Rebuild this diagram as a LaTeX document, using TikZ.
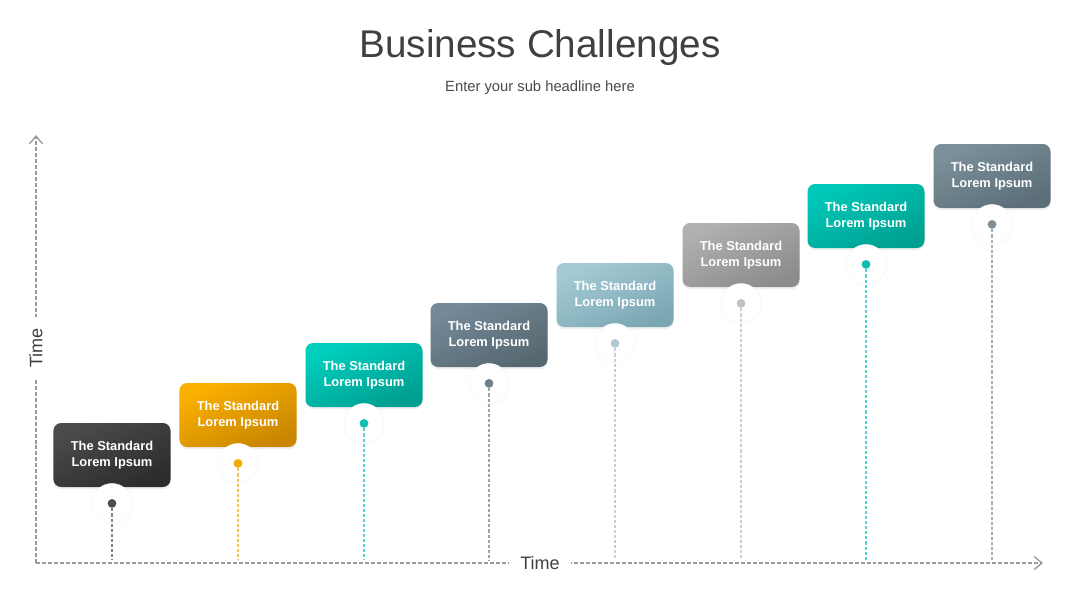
\documentclass[tikz,border=0pt]{standalone}
\usepackage{fontspec}
\setmainfont{Liberation Sans}
\usetikzlibrary{arrows.meta,positioning,shadows}
\definecolor{ink}{HTML}{404040}
\definecolor{axisgray}{HTML}{9A9A9A}
\definecolor{dkA}{HTML}{4B4B4E}\definecolor{dkB}{HTML}{2C2C2E}\definecolor{dkD}{HTML}{4E4E50}
\definecolor{orA}{HTML}{FBB000}\definecolor{orB}{HTML}{C98600}\definecolor{orD}{HTML}{F5AA00}
\definecolor{tqA}{HTML}{00CFBE}\definecolor{tqB}{HTML}{009E90}\definecolor{tqD}{HTML}{12BFB3}
\definecolor{slA}{HTML}{74899A}\definecolor{slB}{HTML}{56686F}\definecolor{slD}{HTML}{6D7E89}
\definecolor{ltA}{HTML}{A4CBD5}\definecolor{ltB}{HTML}{7BA7B2}\definecolor{ltD}{HTML}{B2C8CF}
\definecolor{gyA}{HTML}{B0B0B0}\definecolor{gyB}{HTML}{8C8C8C}\definecolor{gyD}{HTML}{C2C2C2}
\definecolor{cyA}{HTML}{00C8B8}\definecolor{cyB}{HTML}{00A091}\definecolor{cyD}{HTML}{10BDB0}
\definecolor{bgA}{HTML}{7C909B}\definecolor{bgB}{HTML}{5C6F78}\definecolor{bgD}{HTML}{7E8F9A}
\tikzset{
  card/.style 2 args={rectangle,rounded corners=6.5pt,minimum width=3.51cm,minimum height=1.92cm,
    align=center,text=white,font=\fontsize{11}{13.6}\selectfont\bfseries,
    top color=#1,bottom color=#2,shading angle=25,
    drop shadow={opacity=0.12,shadow xshift=0pt,shadow yshift=-2pt}},
  halo/.style={circle,fill=white,draw=black!3,minimum size=34pt,inner sep=0pt,
    circular drop shadow={opacity=0.04,shadow xshift=0pt,shadow yshift=0pt,shadow scale=1.1}},
  dot/.style={circle,fill=#1,minimum size=7.5pt,inner sep=0pt},
  stem/.style={draw=#1,line width=1pt,dash pattern=on 2.6pt off 1.7pt},
  axis/.style={draw=axisgray,line width=1.1pt,dash pattern=on 3.4pt off 1.7pt,
    -{Straight Barb[length=6.5pt,width=11pt,line width=1.2pt]}},
  axlabel/.style={fill=white,text=ink,font=\fontsize{15.4}{18}\selectfont,inner xsep=10pt,inner ysep=2pt}
}
\begin{document}
\begin{tikzpicture}[x=0.03cm,y=-0.03cm]
\useasboundingbox (0,0) rectangle (1080,608);
% heading
\node[text=ink,font=\fontsize{33}{38}\selectfont] (title) at (540,47) {Business Challenges};
\node[text=ink!95,font=\fontsize{12.6}{15}\selectfont] (sub) at (540,88) {Enter your sub headline here};

% axes
\coordinate (o) at (36,563);
\coordinate (ytop) at (36,135);
\coordinate (xend) at (1043,563);
\coordinate (base) at (0,560);
\draw[axis] (o) -- (ytop);
\draw[axis] (o) -- (xend);
\node[axlabel] (xlab) at (540,563) {Time};
\node[axlabel,rotate=90] (ylab) at (36,348) {Time};

% cards
\node[card={dkA}{dkB}] (b1) at (112,455) {The Standard\\Lorem Ipsum};
\node[card={orA}{orB}] (b2) at (238,415) {The Standard\\Lorem Ipsum};
\node[card={tqA}{tqB}] (b3) at (364,375) {The Standard\\Lorem Ipsum};
\node[card={slA}{slB}] (b4) at (489,335) {The Standard\\Lorem Ipsum};
\node[card={ltA}{ltB}] (b5) at (615,295) {The Standard\\Lorem Ipsum};
\node[card={gyA}{gyB}] (b6) at (741,255) {The Standard\\Lorem Ipsum};
\node[card={cyA}{cyB}] (b7) at (866,216) {The Standard\\Lorem Ipsum};
\node[card={bgA}{bgB}] (b8) at (992,176) {The Standard\\Lorem Ipsum};

% halos under the cards
\node[halo,below=-0.12cm of b1] (h1) {};
\node[halo,below=-0.12cm of b2] (h2) {};
\node[halo,below=-0.12cm of b3] (h3) {};
\node[halo,below=-0.12cm of b4] (h4) {};
\node[halo,below=-0.12cm of b5] (h5) {};
\node[halo,below=-0.12cm of b6] (h6) {};
\node[halo,below=-0.12cm of b7] (h7) {};
\node[halo,below=-0.12cm of b8] (h8) {};

% stems down to the time axis
\draw[stem=dkD!70] (h1.center) -- (h1.center |- base);
\draw[stem=orD!70] (h2.center) -- (h2.center |- base);
\draw[stem=tqD!70] (h3.center) -- (h3.center |- base);
\draw[stem=slD!70] (h4.center) -- (h4.center |- base);
\draw[stem=ltD!80] (h5.center) -- (h5.center |- base);
\draw[stem=gyD!80] (h6.center) -- (h6.center |- base);
\draw[stem=cyD!70] (h7.center) -- (h7.center |- base);
\draw[stem=bgD!70] (h8.center) -- (h8.center |- base);

\node[dot=dkD] (d1) at (h1) {};
\node[dot=orD] (d2) at (h2) {};
\node[dot=tqD] (d3) at (h3) {};
\node[dot=slD] (d4) at (h4) {};
\node[dot=ltD] (d5) at (h5) {};
\node[dot=gyD] (d6) at (h6) {};
\node[dot=cyD] (d7) at (h7) {};
\node[dot=bgD] (d8) at (h8) {};
\end{tikzpicture}
\end{document}
